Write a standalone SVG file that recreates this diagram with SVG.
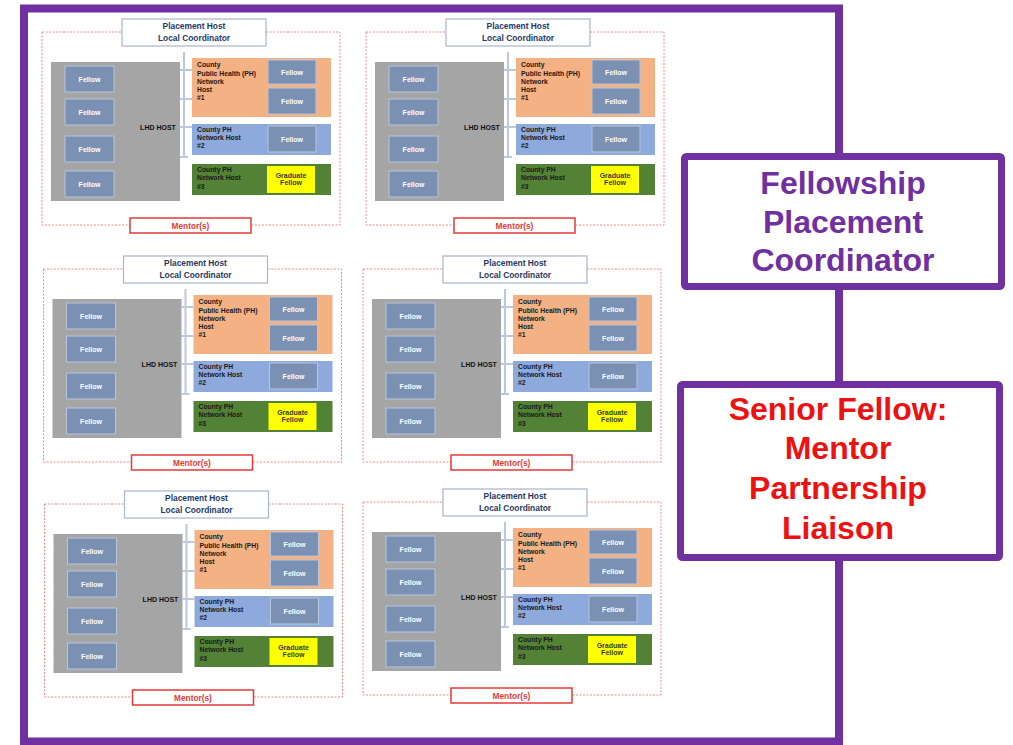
<svg xmlns="http://www.w3.org/2000/svg" width="1013" height="745" viewBox="0 0 1013 745">
<style>
text{font-family:"Liberation Sans",Arial,sans-serif;font-weight:bold}
.dash{fill:none;stroke:#F08A8A;stroke-width:1;stroke-dasharray:2 1.5}
.host{fill:#fff;stroke:#A9B5C8;stroke-width:1.2}
.th{font-size:8.4px;fill:#1F3864;text-anchor:middle}
.lhd{fill:#A5A5A5}
.tl{font-size:7px;fill:#111;text-anchor:middle}
.fel{fill:#7A91B3;stroke:#B8C5DB;stroke-width:1}
.tf{font-size:7px;fill:#fff;text-anchor:middle}
.or{fill:#F4B183}
.bl{fill:#8EA9DB}
.gr{fill:#538135}
.yel{fill:#FFFF00}
.tc{font-size:6.8px;fill:#1a1a1a}
.tg{font-size:7px;fill:#3a3a2a;text-anchor:middle}
.men{fill:#fff;stroke:#E53935;stroke-width:1.5}
.tm{font-size:8.3px;fill:#E53935;text-anchor:middle}
.br{fill:none;stroke:#BCC8DC;stroke-width:2}
.pb{fill:#fff;stroke:#7030A0;stroke-width:7}
.tp{font-size:32px;fill:#7030A0;text-anchor:middle}
.tr{font-size:32px;fill:#EE1111;text-anchor:middle}
</style>
<rect width="1013" height="745" fill="#fff"/>
<g id="frame"><rect x="24" y="8.5" width="815" height="733" fill="#fff" stroke="#7030A0" stroke-width="8"/></g>

<g id="p1" transform="translate(0,0)">
<rect class="dash" x="42" y="32" width="298" height="193"/>
<g id="p1-host"><rect class="host" x="122" y="19" width="144" height="27"/><text class="th" x="194" y="28.8">Placement Host</text><text class="th" x="194" y="41.3">Local Coordinator</text></g>
<g id="p1-lhd"><rect class="lhd" x="51" y="62" width="129" height="139"/><text class="tl" x="158" y="129.5">LHD HOST</text></g>
<g id="p1-f1"><rect class="fel" x="65" y="66" width="49" height="26"/><text class="tf" x="89.5" y="81.5">Fellow</text></g>
<g id="p1-f2"><rect class="fel" x="65" y="99" width="49" height="26"/><text class="tf" x="89.5" y="114.5">Fellow</text></g>
<g id="p1-f3"><rect class="fel" x="65" y="136" width="49" height="26"/><text class="tf" x="89.5" y="151.5">Fellow</text></g>
<g id="p1-f4"><rect class="fel" x="65" y="171" width="49" height="26"/><text class="tf" x="89.5" y="186.5">Fellow</text></g>
<g id="p1-h1"><rect class="or" x="192" y="58" width="139" height="59"/><text class="tc" x="197" y="67.3">County</text><text class="tc" x="197" y="75.5">Public Health (PH)</text><text class="tc" x="197" y="83.7">Network</text><text class="tc" x="197" y="91.9">Host</text><text class="tc" x="197" y="100.1">#1</text></g>
<g id="p1-h1f1"><rect class="fel" x="268" y="60" width="48" height="24"/><text class="tf" x="292" y="74.5">Fellow</text></g>
<g id="p1-h1f2"><rect class="fel" x="268" y="88" width="48" height="26"/><text class="tf" x="292" y="103.5">Fellow</text></g>
<g id="p1-h2"><rect class="bl" x="192" y="124" width="139" height="31"/><text class="tc" x="197" y="132.3">County PH</text><text class="tc" x="197" y="140.3">Network Host</text><text class="tc" x="197" y="148.3">#2</text></g>
<g id="p1-h2f"><rect class="fel" x="268" y="126" width="48" height="26"/><text class="tf" x="292" y="141.5">Fellow</text></g>
<g id="p1-h3"><rect class="gr" x="192" y="164" width="139" height="31"/><text class="tc" x="197" y="171.8">County PH</text><text class="tc" x="197" y="180.3">Network Host</text><text class="tc" x="197" y="188.5">#3</text></g>
<g id="p1-grad"><rect class="yel" x="267" y="166" width="48" height="27"/><text class="tg" x="291" y="177.5">Graduate</text><text class="tg" x="291" y="185.3">Fellow</text></g>
<g id="p1-mentor"><rect class="men" x="130" y="218" width="121" height="15"/><text class="tm" x="190.5" y="228.8">Mentor(s)</text></g>
</g>

<g id="p2" transform="translate(324,0)">
<rect class="dash" x="42" y="32" width="298" height="193"/>
<g id="p2-host"><rect class="host" x="122" y="19" width="144" height="27"/><text class="th" x="194" y="28.8">Placement Host</text><text class="th" x="194" y="41.3">Local Coordinator</text></g>
<g id="p2-lhd"><rect class="lhd" x="51" y="62" width="129" height="139"/><text class="tl" x="158" y="129.5">LHD HOST</text></g>
<g id="p2-f1"><rect class="fel" x="65" y="66" width="49" height="26"/><text class="tf" x="89.5" y="81.5">Fellow</text></g>
<g id="p2-f2"><rect class="fel" x="65" y="99" width="49" height="26"/><text class="tf" x="89.5" y="114.5">Fellow</text></g>
<g id="p2-f3"><rect class="fel" x="65" y="136" width="49" height="26"/><text class="tf" x="89.5" y="151.5">Fellow</text></g>
<g id="p2-f4"><rect class="fel" x="65" y="171" width="49" height="26"/><text class="tf" x="89.5" y="186.5">Fellow</text></g>
<g id="p2-h1"><rect class="or" x="192" y="58" width="139" height="59"/><text class="tc" x="197" y="67.3">County</text><text class="tc" x="197" y="75.5">Public Health (PH)</text><text class="tc" x="197" y="83.7">Network</text><text class="tc" x="197" y="91.9">Host</text><text class="tc" x="197" y="100.1">#1</text></g>
<g id="p2-h1f1"><rect class="fel" x="268" y="60" width="48" height="24"/><text class="tf" x="292" y="74.5">Fellow</text></g>
<g id="p2-h1f2"><rect class="fel" x="268" y="88" width="48" height="26"/><text class="tf" x="292" y="103.5">Fellow</text></g>
<g id="p2-h2"><rect class="bl" x="192" y="124" width="139" height="31"/><text class="tc" x="197" y="132.3">County PH</text><text class="tc" x="197" y="140.3">Network Host</text><text class="tc" x="197" y="148.3">#2</text></g>
<g id="p2-h2f"><rect class="fel" x="268" y="126" width="48" height="26"/><text class="tf" x="292" y="141.5">Fellow</text></g>
<g id="p2-h3"><rect class="gr" x="192" y="164" width="139" height="31"/><text class="tc" x="197" y="171.8">County PH</text><text class="tc" x="197" y="180.3">Network Host</text><text class="tc" x="197" y="188.5">#3</text></g>
<g id="p2-grad"><rect class="yel" x="267" y="166" width="48" height="27"/><text class="tg" x="291" y="177.5">Graduate</text><text class="tg" x="291" y="185.3">Fellow</text></g>
<g id="p2-mentor"><rect class="men" x="130" y="218" width="121" height="15"/><text class="tm" x="190.5" y="228.8">Mentor(s)</text></g>
</g>

<g id="p3" transform="translate(1.5,237)">
<rect class="dash" x="42" y="32" width="298" height="193"/>
<g id="p3-host"><rect class="host" x="122" y="19" width="144" height="27"/><text class="th" x="194" y="28.8">Placement Host</text><text class="th" x="194" y="41.3">Local Coordinator</text></g>
<g id="p3-lhd"><rect class="lhd" x="51" y="62" width="129" height="139"/><text class="tl" x="158" y="129.5">LHD HOST</text></g>
<g id="p3-f1"><rect class="fel" x="65" y="66" width="49" height="26"/><text class="tf" x="89.5" y="81.5">Fellow</text></g>
<g id="p3-f2"><rect class="fel" x="65" y="99" width="49" height="26"/><text class="tf" x="89.5" y="114.5">Fellow</text></g>
<g id="p3-f3"><rect class="fel" x="65" y="136" width="49" height="26"/><text class="tf" x="89.5" y="151.5">Fellow</text></g>
<g id="p3-f4"><rect class="fel" x="65" y="171" width="49" height="26"/><text class="tf" x="89.5" y="186.5">Fellow</text></g>
<g id="p3-h1"><rect class="or" x="192" y="58" width="139" height="59"/><text class="tc" x="197" y="67.3">County</text><text class="tc" x="197" y="75.5">Public Health (PH)</text><text class="tc" x="197" y="83.7">Network</text><text class="tc" x="197" y="91.9">Host</text><text class="tc" x="197" y="100.1">#1</text></g>
<g id="p3-h1f1"><rect class="fel" x="268" y="60" width="48" height="24"/><text class="tf" x="292" y="74.5">Fellow</text></g>
<g id="p3-h1f2"><rect class="fel" x="268" y="88" width="48" height="26"/><text class="tf" x="292" y="103.5">Fellow</text></g>
<g id="p3-h2"><rect class="bl" x="192" y="124" width="139" height="31"/><text class="tc" x="197" y="132.3">County PH</text><text class="tc" x="197" y="140.3">Network Host</text><text class="tc" x="197" y="148.3">#2</text></g>
<g id="p3-h2f"><rect class="fel" x="268" y="126" width="48" height="26"/><text class="tf" x="292" y="141.5">Fellow</text></g>
<g id="p3-h3"><rect class="gr" x="192" y="164" width="139" height="31"/><text class="tc" x="197" y="171.8">County PH</text><text class="tc" x="197" y="180.3">Network Host</text><text class="tc" x="197" y="188.5">#3</text></g>
<g id="p3-grad"><rect class="yel" x="267" y="166" width="48" height="27"/><text class="tg" x="291" y="177.5">Graduate</text><text class="tg" x="291" y="185.3">Fellow</text></g>
<g id="p3-mentor"><rect class="men" x="130" y="218" width="121" height="15"/><text class="tm" x="190.5" y="228.8">Mentor(s)</text></g>
</g>

<g id="p4" transform="translate(321,237)">
<rect class="dash" x="42" y="32" width="298" height="193"/>
<g id="p4-host"><rect class="host" x="122" y="19" width="144" height="27"/><text class="th" x="194" y="28.8">Placement Host</text><text class="th" x="194" y="41.3">Local Coordinator</text></g>
<g id="p4-lhd"><rect class="lhd" x="51" y="62" width="129" height="139"/><text class="tl" x="158" y="129.5">LHD HOST</text></g>
<g id="p4-f1"><rect class="fel" x="65" y="66" width="49" height="26"/><text class="tf" x="89.5" y="81.5">Fellow</text></g>
<g id="p4-f2"><rect class="fel" x="65" y="99" width="49" height="26"/><text class="tf" x="89.5" y="114.5">Fellow</text></g>
<g id="p4-f3"><rect class="fel" x="65" y="136" width="49" height="26"/><text class="tf" x="89.5" y="151.5">Fellow</text></g>
<g id="p4-f4"><rect class="fel" x="65" y="171" width="49" height="26"/><text class="tf" x="89.5" y="186.5">Fellow</text></g>
<g id="p4-h1"><rect class="or" x="192" y="58" width="139" height="59"/><text class="tc" x="197" y="67.3">County</text><text class="tc" x="197" y="75.5">Public Health (PH)</text><text class="tc" x="197" y="83.7">Network</text><text class="tc" x="197" y="91.9">Host</text><text class="tc" x="197" y="100.1">#1</text></g>
<g id="p4-h1f1"><rect class="fel" x="268" y="60" width="48" height="24"/><text class="tf" x="292" y="74.5">Fellow</text></g>
<g id="p4-h1f2"><rect class="fel" x="268" y="88" width="48" height="26"/><text class="tf" x="292" y="103.5">Fellow</text></g>
<g id="p4-h2"><rect class="bl" x="192" y="124" width="139" height="31"/><text class="tc" x="197" y="132.3">County PH</text><text class="tc" x="197" y="140.3">Network Host</text><text class="tc" x="197" y="148.3">#2</text></g>
<g id="p4-h2f"><rect class="fel" x="268" y="126" width="48" height="26"/><text class="tf" x="292" y="141.5">Fellow</text></g>
<g id="p4-h3"><rect class="gr" x="192" y="164" width="139" height="31"/><text class="tc" x="197" y="171.8">County PH</text><text class="tc" x="197" y="180.3">Network Host</text><text class="tc" x="197" y="188.5">#3</text></g>
<g id="p4-grad"><rect class="yel" x="267" y="166" width="48" height="27"/><text class="tg" x="291" y="177.5">Graduate</text><text class="tg" x="291" y="185.3">Fellow</text></g>
<g id="p4-mentor"><rect class="men" x="130" y="218" width="121" height="15"/><text class="tm" x="190.5" y="228.8">Mentor(s)</text></g>
</g>

<g id="p5" transform="translate(2.5,472)">
<rect class="dash" x="42" y="32" width="298" height="193"/>
<g id="p5-host"><rect class="host" x="122" y="19" width="144" height="27"/><text class="th" x="194" y="28.8">Placement Host</text><text class="th" x="194" y="41.3">Local Coordinator</text></g>
<g id="p5-lhd"><rect class="lhd" x="51" y="62" width="129" height="139"/><text class="tl" x="158" y="129.5">LHD HOST</text></g>
<g id="p5-f1"><rect class="fel" x="65" y="66" width="49" height="26"/><text class="tf" x="89.5" y="81.5">Fellow</text></g>
<g id="p5-f2"><rect class="fel" x="65" y="99" width="49" height="26"/><text class="tf" x="89.5" y="114.5">Fellow</text></g>
<g id="p5-f3"><rect class="fel" x="65" y="136" width="49" height="26"/><text class="tf" x="89.5" y="151.5">Fellow</text></g>
<g id="p5-f4"><rect class="fel" x="65" y="171" width="49" height="26"/><text class="tf" x="89.5" y="186.5">Fellow</text></g>
<g id="p5-h1"><rect class="or" x="192" y="58" width="139" height="59"/><text class="tc" x="197" y="67.3">County</text><text class="tc" x="197" y="75.5">Public Health (PH)</text><text class="tc" x="197" y="83.7">Network</text><text class="tc" x="197" y="91.9">Host</text><text class="tc" x="197" y="100.1">#1</text></g>
<g id="p5-h1f1"><rect class="fel" x="268" y="60" width="48" height="24"/><text class="tf" x="292" y="74.5">Fellow</text></g>
<g id="p5-h1f2"><rect class="fel" x="268" y="88" width="48" height="26"/><text class="tf" x="292" y="103.5">Fellow</text></g>
<g id="p5-h2"><rect class="bl" x="192" y="124" width="139" height="31"/><text class="tc" x="197" y="132.3">County PH</text><text class="tc" x="197" y="140.3">Network Host</text><text class="tc" x="197" y="148.3">#2</text></g>
<g id="p5-h2f"><rect class="fel" x="268" y="126" width="48" height="26"/><text class="tf" x="292" y="141.5">Fellow</text></g>
<g id="p5-h3"><rect class="gr" x="192" y="164" width="139" height="31"/><text class="tc" x="197" y="171.8">County PH</text><text class="tc" x="197" y="180.3">Network Host</text><text class="tc" x="197" y="188.5">#3</text></g>
<g id="p5-grad"><rect class="yel" x="267" y="166" width="48" height="27"/><text class="tg" x="291" y="177.5">Graduate</text><text class="tg" x="291" y="185.3">Fellow</text></g>
<g id="p5-mentor"><rect class="men" x="130" y="218" width="121" height="15"/><text class="tm" x="190.5" y="228.8">Mentor(s)</text></g>
</g>

<g id="p6" transform="translate(321,470)">
<rect class="dash" x="42" y="32" width="298" height="193"/>
<g id="p6-host"><rect class="host" x="122" y="19" width="144" height="27"/><text class="th" x="194" y="28.8">Placement Host</text><text class="th" x="194" y="41.3">Local Coordinator</text></g>
<g id="p6-lhd"><rect class="lhd" x="51" y="62" width="129" height="139"/><text class="tl" x="158" y="129.5">LHD HOST</text></g>
<g id="p6-f1"><rect class="fel" x="65" y="66" width="49" height="26"/><text class="tf" x="89.5" y="81.5">Fellow</text></g>
<g id="p6-f2"><rect class="fel" x="65" y="99" width="49" height="26"/><text class="tf" x="89.5" y="114.5">Fellow</text></g>
<g id="p6-f3"><rect class="fel" x="65" y="136" width="49" height="26"/><text class="tf" x="89.5" y="151.5">Fellow</text></g>
<g id="p6-f4"><rect class="fel" x="65" y="171" width="49" height="26"/><text class="tf" x="89.5" y="186.5">Fellow</text></g>
<g id="p6-h1"><rect class="or" x="192" y="58" width="139" height="59"/><text class="tc" x="197" y="67.3">County</text><text class="tc" x="197" y="75.5">Public Health (PH)</text><text class="tc" x="197" y="83.7">Network</text><text class="tc" x="197" y="91.9">Host</text><text class="tc" x="197" y="100.1">#1</text></g>
<g id="p6-h1f1"><rect class="fel" x="268" y="60" width="48" height="24"/><text class="tf" x="292" y="74.5">Fellow</text></g>
<g id="p6-h1f2"><rect class="fel" x="268" y="88" width="48" height="26"/><text class="tf" x="292" y="103.5">Fellow</text></g>
<g id="p6-h2"><rect class="bl" x="192" y="124" width="139" height="31"/><text class="tc" x="197" y="132.3">County PH</text><text class="tc" x="197" y="140.3">Network Host</text><text class="tc" x="197" y="148.3">#2</text></g>
<g id="p6-h2f"><rect class="fel" x="268" y="126" width="48" height="26"/><text class="tf" x="292" y="141.5">Fellow</text></g>
<g id="p6-h3"><rect class="gr" x="192" y="164" width="139" height="31"/><text class="tc" x="197" y="171.8">County PH</text><text class="tc" x="197" y="180.3">Network Host</text><text class="tc" x="197" y="188.5">#3</text></g>
<g id="p6-grad"><rect class="yel" x="267" y="166" width="48" height="27"/><text class="tg" x="291" y="177.5">Graduate</text><text class="tg" x="291" y="185.3">Fellow</text></g>
<g id="p6-mentor"><rect class="men" x="130" y="218" width="121" height="15"/><text class="tm" x="190.5" y="228.8">Mentor(s)</text></g>
</g>

<g id="connectors">
<path class="br" transform="translate(0,0)" d="M184 52V157M180 70H192M180 99H192M180 127H192M180 157H188"/>
<path class="br" transform="translate(324,0)" d="M184 52V157M180 70H192M180 99H192M180 127H192M180 157H188"/>
<path class="br" transform="translate(1.5,237)" d="M184 52V157M180 70H192M180 99H192M180 127H192M180 157H188"/>
<path class="br" transform="translate(321,237)" d="M184 52V157M180 70H192M180 99H192M180 127H192M180 157H188"/>
<path class="br" transform="translate(2.5,472)" d="M184 52V157M180 70H192M180 99H192M180 127H192M180 157H188"/>
<path class="br" transform="translate(321,470)" d="M184 52V157M180 70H192M180 99H192M180 127H192M180 157H188"/>
</g>

<g id="fellowship-coordinator"><rect class="pb" x="684.5" y="156.5" width="317" height="130" rx="2"/><text class="tp" x="843" y="194">Fellowship</text><text class="tp" x="843" y="233">Placement</text><text class="tp" x="843" y="271">Coordinator</text></g>
<g id="senior-fellow"><rect class="pb" x="680.5" y="384.5" width="319" height="173" rx="2"/><text class="tr" x="838" y="420">Senior Fellow:</text><text class="tr" x="838" y="459">Mentor</text><text class="tr" x="838" y="499">Partnership</text><text class="tr" x="838" y="539">Liaison</text></g>
</svg>
